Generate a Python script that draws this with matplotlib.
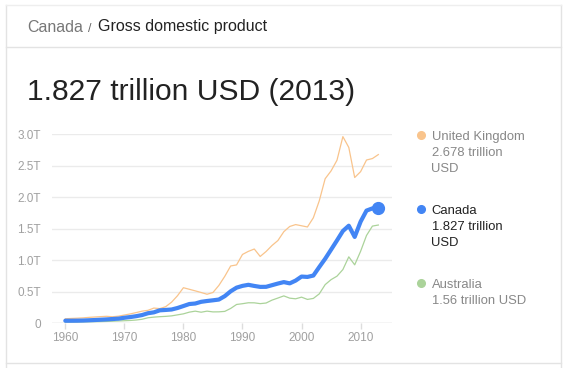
import matplotlib
matplotlib.use("Agg")
import matplotlib.pyplot as plt
from matplotlib.lines import Line2D

plt.rcParams['font.family'] = ['Liberation Sans', 'DejaVu Sans']

years = list(range(1960, 2014))
uk = [0.072, 0.077, 0.081, 0.086, 0.094, 0.100, 0.106, 0.111, 0.104, 0.113,
      0.131, 0.149, 0.170, 0.193, 0.206, 0.242, 0.233, 0.264, 0.336, 0.438,
      0.565, 0.540, 0.515, 0.489, 0.461, 0.489, 0.601, 0.745, 0.910, 0.927,
      1.093, 1.142, 1.179, 1.061, 1.140, 1.235, 1.314, 1.454, 1.537, 1.567,
      1.548, 1.529, 1.675, 1.944, 2.295, 2.419, 2.588, 2.963, 2.792, 2.314,
      2.407, 2.592, 2.615, 2.678]
canada = [0.041, 0.041, 0.042, 0.044, 0.048, 0.052, 0.057, 0.062, 0.068, 0.074,
          0.088, 0.099, 0.113, 0.131, 0.160, 0.174, 0.206, 0.212, 0.219, 0.243,
          0.274, 0.306, 0.314, 0.341, 0.354, 0.365, 0.377, 0.431, 0.508, 0.566,
          0.594, 0.611, 0.593, 0.578, 0.579, 0.605, 0.631, 0.654, 0.634, 0.678,
          0.742, 0.736, 0.758, 0.893, 1.024, 1.169, 1.315, 1.465, 1.549, 1.371,
          1.613, 1.789, 1.824, 1.827]
australia = [0.019, 0.020, 0.020, 0.022, 0.024, 0.026, 0.027, 0.030, 0.033, 0.037,
             0.041, 0.045, 0.052, 0.064, 0.088, 0.098, 0.105, 0.110, 0.118, 0.134,
             0.150, 0.177, 0.193, 0.176, 0.193, 0.181, 0.182, 0.189, 0.236, 0.299,
             0.311, 0.326, 0.325, 0.312, 0.322, 0.368, 0.401, 0.435, 0.399, 0.389,
             0.415, 0.379, 0.395, 0.467, 0.614, 0.693, 0.748, 0.853, 1.055, 0.928,
             1.143, 1.394, 1.543, 1.560]

y_ticks = [0, 0.5, 1.0, 1.5, 2.0, 2.5, 3.0]
y_labels = ['0', '0.5T', '1.0T', '1.5T', '2.0T', '2.5T', '3.0T']
x_ticks = [1960, 1970, 1980, 1990, 2000, 2010]

legend_names = ['United Kingdom', 'Canada', 'Australia']
legend_values = [['2.678 trillion', 'USD'], ['1.827 trillion', 'USD'], ['1.56 trillion USD']]

W, H = 568, 368
fig = plt.figure(figsize=(W / 100, H / 100), dpi=100)
fig.patch.set_facecolor('white')

def fx(x):
    return x / W

def fy(y):
    return 1 - y / H

# card borders
border = '#e3e3e3'
fig.add_artist(Line2D([fx(5.5), fx(5.5)], [fy(4.5), fy(368)], color=border, lw=1))
fig.add_artist(Line2D([fx(560.5), fx(560.5)], [fy(4.5), fy(368)], color=border, lw=1))
fig.add_artist(Line2D([fx(5.5), fx(560.5)], [fy(4.5), fy(4.5)], color='#eeeeee', lw=1))
fig.add_artist(Line2D([fx(5.5), fx(560.5)], [fy(47.3), fy(47.3)], color=border, lw=1))
fig.add_artist(Line2D([fx(5.5), fx(560.5)], [fy(362.7), fy(362.7)], color=border, lw=1))

# header
fig.text(fx(27), fy(31.5), 'Canada', fontsize=11.5, color='#777777', va='baseline')
fig.text(fx(88), fy(31.5), '/', fontsize=9, color='#666666', va='baseline')
fig.text(fx(98.5), fy(31.5), 'Gross domestic product', fontsize=11.5, color='#222222', va='baseline')

# big title
fig.text(fx(27), fy(100), '1.827 trillion USD (2013)', fontsize=21.6, color='#222222', va='baseline')

# axes
left, right, top, bottom = 52, 392, 134.3, 323.3
ax = fig.add_axes([fx(left), fy(bottom), fx(right - left), (bottom - top) / H])
x0 = 1960 - (65.3 - left) / 5.906
x1 = 1960 + (right - 65.3) / 5.906
ax.set_xlim(x0, x1)
ax.set_ylim(0, 3.0)

for s in ax.spines.values():
    s.set_visible(False)
ax.set_yticks(y_ticks)
ax.set_yticklabels(y_labels)
ax.set_xticks(x_ticks)
ax.set_xticklabels([str(t) for t in x_ticks])
ax.tick_params(axis='y', length=0, pad=8, labelsize=8.5, labelcolor='#a0a0a0')
ax.tick_params(axis='x', length=4, width=1, color='#dddddd', pad=2.5, labelsize=8.5, labelcolor='#a0a0a0')
ax.grid(axis='y', color='#ebebeb', lw=1)
ax.axhline(0, color='#dddddd', lw=1, zorder=1)
ax.set_axisbelow(True)

orange = '#f9c48c'
blue = '#4285f4'
green = '#abd39a'
ax.plot(years, uk, color=orange, lw=0.9, clip_on=False, zorder=3)
ax.plot(years, australia, color=green, lw=0.9, clip_on=False, zorder=3)
ax.plot(years, canada, color=blue, lw=3.0, clip_on=False, zorder=4, solid_capstyle='round')
ax.plot([years[-1]], [canada[-1]], 'o', color=blue, ms=8.5, clip_on=False, zorder=5)

# legend
colors = [orange, blue, green]
text_colors = ['#888888', '#222222', '#888888']
first_baselines = [140.3, 214.3, 288.3]
for name, vals, c, tc, b in zip(legend_names, legend_values, colors, text_colors, first_baselines):
    fig.add_artist(Line2D([fx(420.5)], [fy(b - 5.5)], marker='o', ms=5.5, color=c, lw=0))
    lines = [name] + vals
    for i, line in enumerate(lines):
        fig.text(fx(431.5), fy(b + i * 15.7), line, fontsize=9.4, color=tc, va='baseline')

fig.savefig('out.png', dpi=100, facecolor='white')
